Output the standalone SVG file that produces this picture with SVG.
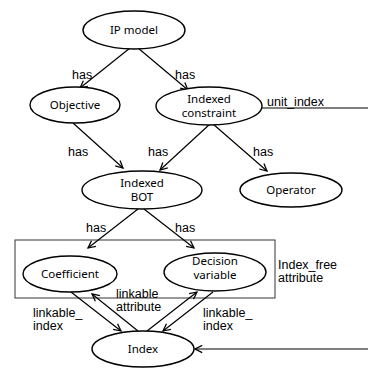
<svg xmlns="http://www.w3.org/2000/svg" width="368" height="374" viewBox="0 0 368 374">
<defs>
<marker id="ah" viewBox="0 0 10 10" refX="9" refY="5" markerWidth="9" markerHeight="9" markerUnits="userSpaceOnUse" orient="auto">
<path d="M1,1 L9,5 L1,9" fill="none" stroke="#000" stroke-width="1.4"/>
</marker>
</defs>
<style>
.node ellipse{fill:#fff;stroke:#000;stroke-width:1.4}
.node text{font-family:"Noto Sans","DejaVu Sans",sans-serif;font-size:11.5px;text-anchor:middle;fill:#000}
.edge{stroke:#000;stroke-width:1.2;fill:none}
.lbl{font-family:"Liberation Sans",Arial,sans-serif;font-size:12.5px;fill:#000}
</style>
<rect width="368" height="374" fill="#fff"/>
<g id="connectors">
<rect x="15" y="240" width="260" height="58" fill="none" stroke="#333" stroke-width="1"/>
<line class="edge" x1="130" y1="48" x2="80" y2="88" marker-end="url(#ah)"/>
<line class="edge" x1="138" y1="48" x2="188" y2="90" marker-end="url(#ah)"/>
<line class="edge" x1="73" y1="123" x2="123" y2="168" marker-end="url(#ah)"/>
<line class="edge" x1="210" y1="124" x2="160" y2="170" marker-end="url(#ah)"/>
<line class="edge" x1="213" y1="124" x2="267" y2="171" marker-end="url(#ah)"/>
<line class="edge" x1="138" y1="209" x2="88" y2="248" marker-end="url(#ah)"/>
<line class="edge" x1="144" y1="209" x2="194" y2="248" marker-end="url(#ah)"/>
<line class="edge" x1="71" y1="292" x2="121" y2="331" marker-end="url(#ah)"/>
<line class="edge" x1="138" y1="331" x2="92" y2="294" marker-end="url(#ah)"/>
<line class="edge" x1="147" y1="331" x2="197" y2="292" marker-end="url(#ah)"/>
<line class="edge" x1="213" y1="292" x2="163" y2="331" marker-end="url(#ah)"/>
<line class="edge" x1="262" y1="108" x2="368" y2="108"/>
<line class="edge" x1="368" y1="349" x2="195" y2="349" marker-end="url(#ah)"/>
<text class="lbl" x="72" y="79">has</text>
<text class="lbl" x="175" y="79">has</text>
<text class="lbl" x="68" y="156">has</text>
<text class="lbl" x="148" y="156">has</text>
<text class="lbl" x="253" y="156">has</text>
<text class="lbl" x="86" y="232">has</text>
<text class="lbl" x="175" y="232">has</text>
<text class="lbl" x="267" y="106">unit_index</text>
<text class="lbl" x="278" y="269">Index_free</text>
<text class="lbl" x="278" y="282">attribute</text>
<text class="lbl" x="33" y="317">linkable_</text>
<text class="lbl" x="33" y="330">index</text>
<text class="lbl" x="116" y="298">linkable</text>
<text class="lbl" x="116" y="311">attribute</text>
<text class="lbl" x="203" y="317">linkable_</text>
<text class="lbl" x="203" y="330">index</text>
</g>
<g id="ip-model" class="node"><ellipse cx="134" cy="30" rx="51" ry="19"/><text x="134" y="34">IP model</text></g>
<g id="objective" class="node"><ellipse cx="75" cy="105" rx="45" ry="18"/><text x="75" y="109">Objective</text></g>
<g id="indexed-constraint" class="node"><ellipse cx="209" cy="106" rx="53" ry="19"/><text x="209" y="103">Indexed</text><text x="209" y="117">constraint</text></g>
<g id="indexed-bot" class="node"><ellipse cx="142" cy="190" rx="60" ry="19"/><text x="142" y="187">Indexed</text><text x="142" y="201">BOT</text></g>
<g id="operator" class="node"><ellipse cx="291" cy="190" rx="51" ry="17"/><text x="291" y="194">Operator</text></g>
<g id="coefficient" class="node"><ellipse cx="70" cy="274" rx="47" ry="18"/><text x="70" y="278">Coefficient</text></g>
<g id="decision-variable" class="node"><ellipse cx="215" cy="272" rx="51" ry="19"/><text x="215" y="265">Decision</text><text x="215" y="279">variable</text></g>
<g id="index" class="node"><ellipse cx="143" cy="349" rx="51" ry="18"/><text x="143" y="353">Index</text></g>
</svg>
